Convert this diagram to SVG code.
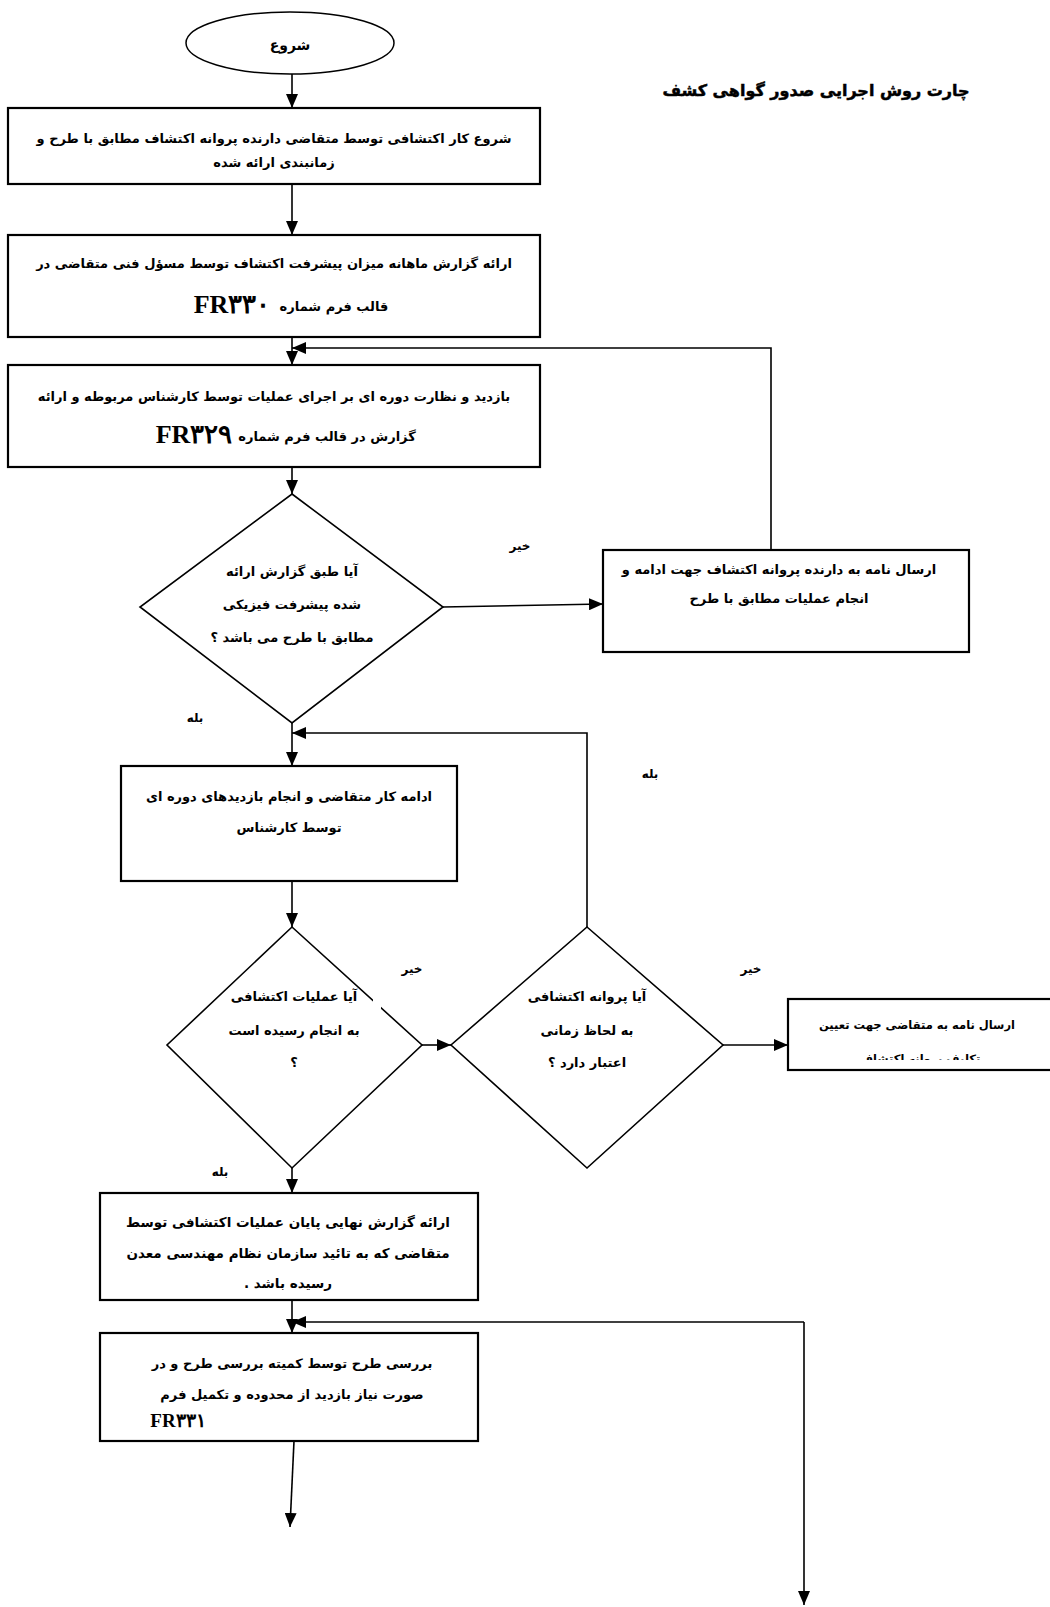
<svg xmlns="http://www.w3.org/2000/svg" width="1050" height="1607" viewBox="0 0 1050 1607">
<style>
.box{fill:#fff;stroke:#000;stroke-width:2.2}
.dia{fill:#fff;stroke:#000;stroke-width:1.6}
.t{font-family:"DejaVu Sans",sans-serif;font-weight:bold;font-size:13px;fill:#000;text-anchor:middle}
.fr{font-family:"Liberation Serif","DejaVu Serif",serif;font-weight:bold;font-size:26px;fill:#000;text-anchor:middle}
.lbl{font-family:"DejaVu Sans",sans-serif;font-weight:bold;font-size:12px;fill:#000;text-anchor:middle}
.ttl{font-family:"DejaVu Sans",sans-serif;font-weight:bold;font-size:16px;fill:#000;stroke:#000;stroke-width:0.5;text-anchor:middle}
.c{fill:none;stroke:#000;stroke-width:1.6}
</style>
<defs>
<marker id="ah" markerWidth="14" markerHeight="12" refX="14" refY="6" orient="auto" markerUnits="userSpaceOnUse">
<path d="M0,0 L14,6 L0,12 Z" fill="#000"/>
</marker>
<clipPath id="clip6"><rect x="780" y="990" width="280" height="70"/></clipPath>
</defs>
<rect width="1050" height="1607" fill="#fff"/>

<g id="title"><text class="ttl" x="816" y="96" direction="rtl">چارت روش اجرایی صدور گواهی کشف</text></g>

<g id="connectors">
<path class="c" d="M292,74 L292,108" marker-end="url(#ah)"/>
<path class="c" d="M292,184 L292,235" marker-end="url(#ah)"/>
<path class="c" d="M292,337 L292,365" marker-end="url(#ah)"/>
<path class="c" d="M771,550 L771,348 L292,348" marker-end="url(#ah)"/>
<path class="c" d="M292,467 L292,494" marker-end="url(#ah)"/>
<path class="c" d="M443,607 L603,604" marker-end="url(#ah)"/>
<path class="c" d="M292,723 L292,766" marker-end="url(#ah)"/>
<path class="c" d="M587,927 L587,733 L292,733" marker-end="url(#ah)"/>
<path class="c" d="M292,881 L292,927" marker-end="url(#ah)"/>
<path class="c" d="M422,1045 L451,1045" marker-end="url(#ah)"/>
<path class="c" d="M723,1045 L788,1045" marker-end="url(#ah)"/>
<path class="c" d="M292,1168 L292,1193" marker-end="url(#ah)"/>
<path class="c" d="M292,1300 L292,1333" marker-end="url(#ah)"/>
<path class="c" d="M804,1322 L292,1322" marker-end="url(#ah)"/>
<path class="c" d="M804,1322 L804,1605" marker-end="url(#ah)"/>
<path class="c" d="M294,1441 L290,1527" marker-end="url(#ah)"/>
<text class="lbl" x="520" y="550" direction="rtl">خیر</text>
<text class="lbl" x="195" y="722" direction="rtl">بله</text>
<text class="lbl" x="650" y="778" direction="rtl">بله</text>
<text class="lbl" x="412" y="973" direction="rtl">خیر</text>
<text class="lbl" x="751" y="973" direction="rtl">خیر</text>
<text class="lbl" x="220" y="1176" direction="rtl">بله</text>
</g>

<g id="start">
<ellipse cx="290" cy="43" rx="104" ry="31" fill="#fff" stroke="#000" stroke-width="1.5"/>
<text class="t" x="290" y="50" direction="rtl" style="font-size:14px">شروع</text>
</g>

<g id="box1">
<rect class="box" x="8" y="108" width="532" height="76"/>
<text class="t" x="274" y="143" direction="rtl">شروع کار اکتشافی توسط متقاضی دارنده پروانه اکتشاف مطابق با طرح و</text>
<text class="t" x="274" y="167" direction="rtl">زمانبندی ارائه شده</text>
</g>

<g id="box2">
<rect class="box" x="8" y="235" width="532" height="102"/>
<text class="t" x="274" y="268" direction="rtl">ارائه گزارش ماهانه میزان پیشرفت اکتشاف توسط مسؤل فنی متقاضی در</text>
<text class="t" x="334" y="311" direction="rtl">قالب فرم شماره</text>
<text class="fr" x="232" y="313">FR۳۳۰</text>
</g>

<g id="box3">
<rect class="box" x="8" y="365" width="532" height="102"/>
<text class="t" x="274" y="401" direction="rtl">بازدید و نظارت دوره ای بر اجرای عملیات توسط کارشناس مربوطه و ارائه</text>
<text class="t" x="327" y="441" direction="rtl">گزارش  در قالب فرم شماره</text>
<text class="fr" x="194" y="443">FR۳۲۹</text>
</g>

<g id="decision1">
<polygon class="dia" points="292,494 443,607 292,723 140,607"/>
<text class="t" x="292" y="576" direction="rtl">آیا طبق گزارش ارائه</text>
<text class="t" x="292" y="609" direction="rtl">شده پیشرفت فیزیکی</text>
<text class="t" x="292" y="642" direction="rtl">مطابق با طرح می باشد ؟</text>
</g>

<g id="box4">
<rect class="box" x="603" y="550" width="366" height="102"/>
<text class="t" x="779" y="574" direction="rtl">ارسال نامه به دارنده پروانه اکتشاف جهت ادامه و</text>
<text class="t" x="779" y="603" direction="rtl">انجام عملیات مطابق با طرح</text>
</g>

<g id="box5">
<rect class="box" x="121" y="766" width="336" height="115"/>
<text class="t" x="289" y="801" direction="rtl">ادامه کار متقاضی و انجام بازدیدهای دوره ای</text>
<text class="t" x="289" y="832" direction="rtl">توسط کارشناس</text>
</g>

<g id="decision2">
<polygon class="dia" points="292,927 422,1045 292,1168 167,1045"/>
<rect x="373" y="998" width="8" height="12" fill="#fff"/>
<text class="t" x="294" y="1001" direction="rtl">آیا عملیات اکتشافی</text>
<text class="t" x="294" y="1035" direction="rtl">به انجام رسیده است</text>
<text class="t" x="294" y="1067" direction="rtl">؟</text>
</g>

<g id="decision3">
<polygon class="dia" points="587,927 723,1045 587,1168 451,1045"/>
<text class="t" x="587" y="1001" direction="rtl">آیا پروانه اکتشافی</text>
<text class="t" x="587" y="1035" direction="rtl">به لحاظ زمانی</text>
<text class="t" x="587" y="1067" direction="rtl">اعتبار دارد ؟</text>
</g>

<g id="box6">
<rect class="box" x="788" y="999" width="272" height="71"/>
<text class="t" x="917" y="1029" direction="rtl" style="font-size:11.5px">ارسال نامه به متقاضی جهت تعیین</text>
<text class="t" x="920" y="1063" direction="rtl" style="font-size:11.5px" clip-path="url(#clip6)">تکلیف پروانه اکتشاف</text>
</g>

<g id="box7">
<rect class="box" x="100" y="1193" width="378" height="107"/>
<text class="t" x="288" y="1227" direction="rtl" style="font-size:13.5px">ارائه گزارش نهایی پایان عملیات اکتشافی توسط</text>
<text class="t" x="288" y="1258" direction="rtl" style="font-size:13.5px">متقاضی که به  تائید سازمان نظام مهندسی معدن</text>
<text class="t" x="288" y="1288" direction="rtl" style="font-size:13.5px">رسیده باشد .</text>
</g>

<g id="box8">
<rect class="box" x="100" y="1333" width="378" height="108"/>
<text class="t" x="292" y="1368" direction="rtl">بررسی طرح توسط کمیته بررسی طرح و در</text>
<text class="t" x="292" y="1399" direction="rtl">صورت نیاز بازدید از محدوده و تکمیل فرم</text>
<text class="fr" x="178" y="1427" style="font-size:19px">FR۳۳۱</text>
</g>
</svg>
